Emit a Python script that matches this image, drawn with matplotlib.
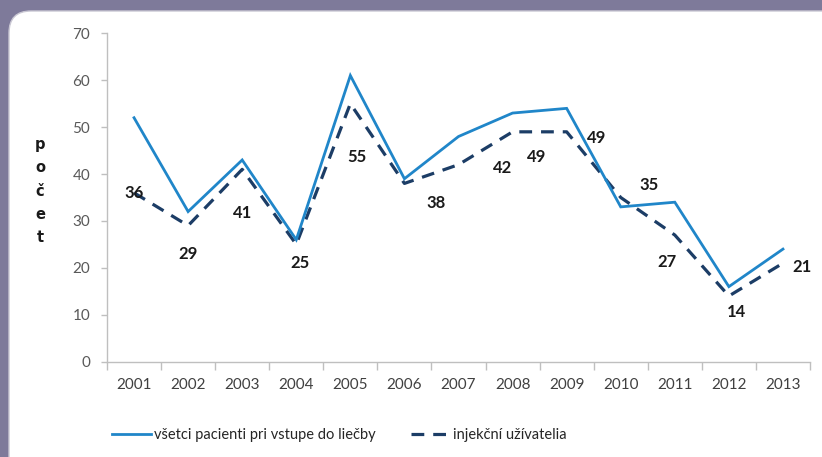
import matplotlib
matplotlib.use("Agg")
import matplotlib.pyplot as plt
from matplotlib.patches import FancyBboxPatch
from matplotlib.transforms import IdentityTransform
import numpy as np

years = ["2001", "2002", "2003", "2004", "2005", "2006", "2007",
         "2008", "2009", "2010", "2011", "2012", "2013"]
all_patients = [52, 32, 43, 26, 61, 39, 48, 53, 54, 33, 34, 16, 24]
injecting = [36, 29, 41, 25, 55, 38, 42, 49, 49, 35, 27, 14, 21]
series_names = ["všetci pacienti pri vstupe do liečby", "injekční užívatelia"]
y_label = "počet"

# label offsets in pixels (dx, dy), styling only
label_offsets = [(0, 0), (0, -28), (0, -44), (4, -19), (7, -53), (32, -20),
                 (44, -3), (24, -25), (30, -6), (28, 12), (-8, -27), (8, -16), (19, -4)]

W, H = 822, 457
fig = plt.figure(figsize=(W / 100, H / 100), dpi=100)
fig.patch.set_facecolor("#7e7a9a")

panel = FancyBboxPatch((9, -30), 860, 457 - 11 + 30,
                       boxstyle="round,pad=0,rounding_size=22",
                       transform=IdentityTransform(), facecolor="white",
                       edgecolor="#c9c7d3", linewidth=1.0, zorder=-5)
fig.patches.append(panel)

font = ["Lato", "DejaVu Sans"]

ax = fig.add_axes([107 / W, 1 - 361.7 / H, (810 - 107) / W, (361.7 - 33.3) / H])
ax.set_zorder(2)
ax.set_facecolor("none")
x = np.arange(len(years))
ax.plot(x, all_patients, color="#2086c9", lw=2.0, solid_joinstyle="miter",
        label=series_names[0], zorder=3)
ax.plot(x, injecting, color="#1c3d66", lw=2.3, dashes=(4.0, 2.8),
        label=series_names[1], zorder=2)

for xi, v, (dx, dy) in zip(x, injecting, label_offsets):
    ax.annotate(str(v), (xi, v), xytext=(dx, dy), textcoords="offset pixels",
                ha="center", va="center", fontsize=12, fontweight="bold",
                color="#1a1a1a", family=font, zorder=4)

ax.set_xlim(-0.5, len(years) - 0.5)
ax.set_ylim(0, 70)
ax.set_yticks(np.arange(0, 71, 10))
ax.set_xticks(np.arange(-0.5, len(years), 1.0))
ax.set_xticklabels([])
ax.set_xticks(x, minor=True)
ax.set_xticklabels(years, minor=True)
ax.tick_params(axis="x", which="major", length=6, width=1, color="#bfbfbf", direction="out")
ax.tick_params(axis="x", which="minor", length=0, pad=12, labelsize=11, labelcolor="#404040")
ax.tick_params(axis="y", length=4, width=1, color="#bfbfbf", labelsize=11,
               labelcolor="#595959", pad=8)
for lab in ax.get_xticklabels(minor=True) + ax.get_yticklabels():
    lab.set_family(font)
for s in ["top", "right"]:
    ax.spines[s].set_visible(False)
for s in ["left", "bottom"]:
    ax.spines[s].set_color("#bfbfbf")
    ax.spines[s].set_linewidth(1)

fig.text(40 / W, 1 - 191 / H, "\n".join(y_label), ha="center", va="center",
         fontsize=10.5, fontweight="bold", color="#1a1a1a", linespacing=1.7,
         family=["DejaVu Sans"])

leg = fig.legend(loc="center", bbox_to_anchor=(339 / W, 1 - 435 / H), ncol=2,
                 frameon=False, handlelength=2.7, columnspacing=2.4,
                 handletextpad=0.2, prop={"family": font, "size": 10.5})
for t in leg.get_texts():
    t.set_color("#262626")

fig.savefig("out.png", dpi=100, facecolor=fig.get_facecolor())
